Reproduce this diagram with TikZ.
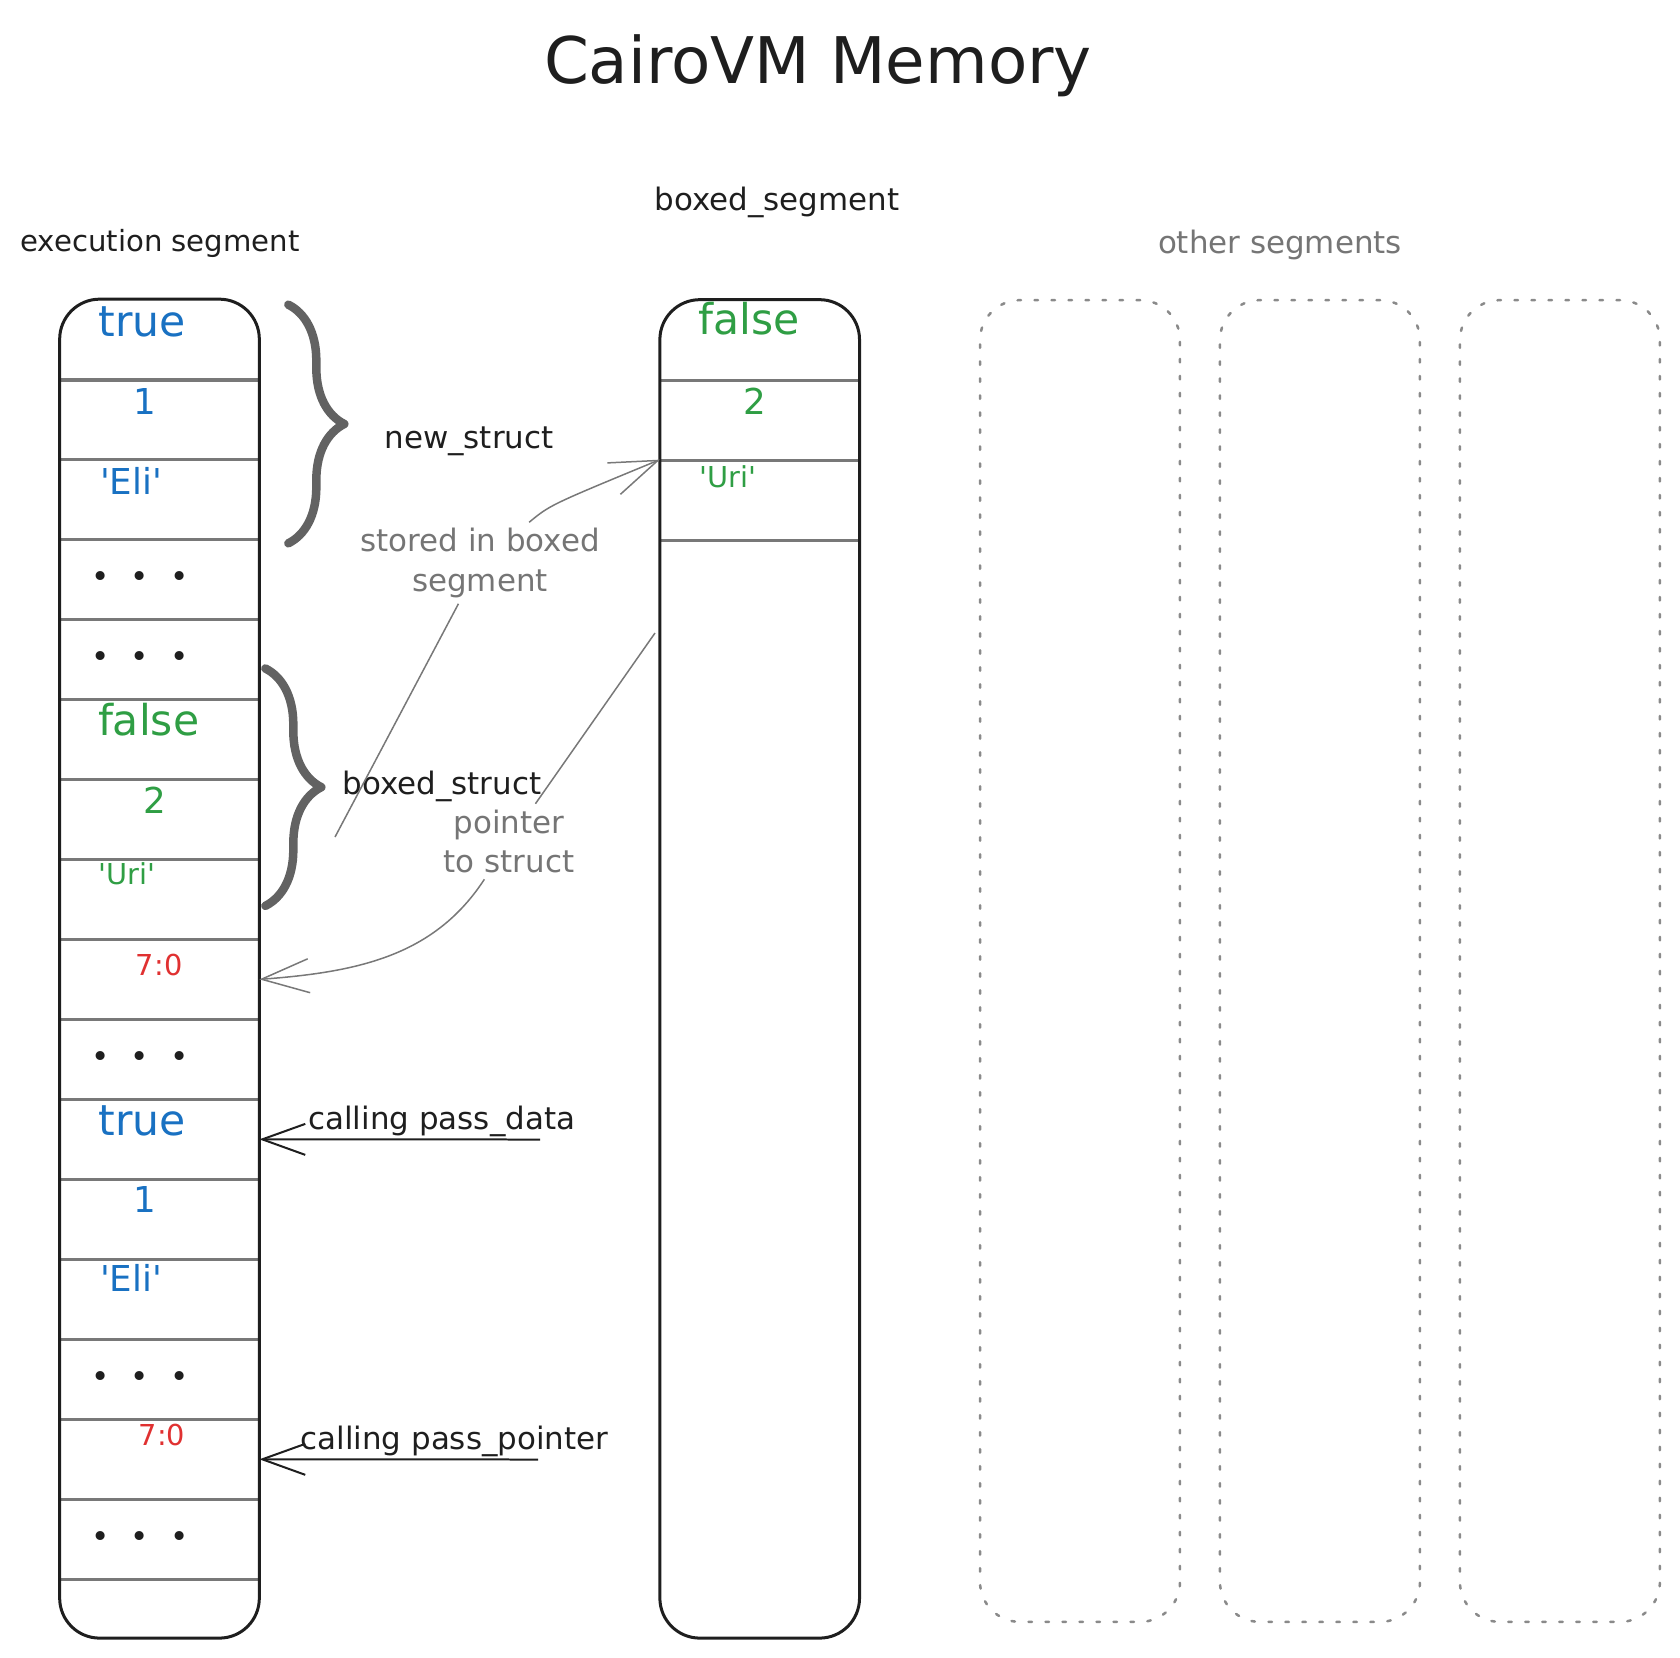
\documentclass[tikz,border=0pt]{standalone}
\usepackage{fontspec}
\setmainfont{DejaVu Sans}
\usetikzlibrary{positioning,arrows.meta,decorations.pathreplacing}

\definecolor{ink}{HTML}{1E1E1E}
\definecolor{valblue}{HTML}{1971C2}
\definecolor{valgreen}{HTML}{2F9E44}
\definecolor{valred}{HTML}{E03131}
\definecolor{greytext}{HTML}{757575}
\definecolor{greyline}{HTML}{787878}
\definecolor{bracegrey}{HTML}{626262}
\definecolor{dotgrey}{HTML}{8A8A8A}

\newcommand{\cellgap}{•\hspace{0.43cm}•\hspace{0.43cm}•}

\tikzset{
  cell/.style={minimum width=3.98cm, minimum height=1.6cm, inner sep=0pt},
  segbox/.style={draw=ink, line width=0.06cm, rounded corners=0.8cm},
  divider/.style={color=greyline, line width=0.066cm},
  freeseg/.style={draw=dotgrey, line width=0.05cm, dash pattern=on 0.07cm off 0.27cm, line cap=round, rounded corners=0.8cm, minimum width=4cm, minimum height=26.44cm},
  word/.style={anchor=base west, inner sep=0pt},
  num/.style={anchor=base, inner sep=0pt},
  bigsize/.style={font=\fontsize{24.2pt}{29pt}\selectfont},
  midsize/.style={font=\fontsize{20.3pt}{24pt}\selectfont},
  smallsize/.style={font=\fontsize{16.4pt}{20pt}\selectfont},
  gapdots/.style={font=\fontsize{17.6pt}{21pt}\selectfont, text=ink, inner sep=0pt},
  note/.style={font=\fontsize{17.6pt}{22.3pt}\selectfont, text=ink, anchor=base},
  greynote/.style={font=\fontsize{17.6pt}{22.3pt}\selectfont, text=greytext, align=center},
  bracket/.style={draw=bracegrey, line width=0.17cm, line cap=round, line join=round, decorate, decoration={brace, amplitude=1.12cm}},
  ptrarrow/.style={draw=greyline, line width=0.03cm, -{Straight Barb[length=0.95cm, width=0.68cm]}},
  callarrow/.style={draw=ink, line width=0.04cm, -{Straight Barb[length=0.86cm, width=0.62cm]}}
}

\begin{document}
\begin{tikzpicture}[x=0.02cm, y=-0.02cm, node distance=1.6cm]
\useasboundingbox (0,0) rectangle (1680,1657);

% headings
\node[note, font=\fontsize{36.6pt}{44pt}\selectfont] (title) at (818,83) {CairoVM Memory};
\node[note, font=\fontsize{16.6pt}{20pt}\selectfont] (exechead) at (160,251) {execution segment};
\node[note] (boxhead) at (777,210) {boxed\_segment};
\node[note, text=greytext] (otherhead) at (1280,253) {other segments};

% execution segment
\node[cell] (e1) at (159.5,339.5) {};
\node[cell] (e2)[below of = e1] {};
\node[cell] (e3)[below of = e2] {};
\node[cell] (e4)[below of = e3] {};
\node[cell] (e5)[below of = e4] {};
\node[cell] (e6)[below of = e5] {};
\node[cell] (e7)[below of = e6] {};
\node[cell] (e8)[below of = e7] {};
\node[cell] (e9)[below of = e8] {};
\node[cell] (e10)[below of = e9] {};
\node[cell] (e11)[below of = e10] {};
\node[cell] (e12)[below of = e11] {};
\node[cell] (e13)[below of = e12] {};
\node[cell] (e14)[below of = e13] {};
\node[cell] (e15)[below of = e14] {};
\node[cell] (e16)[below of = e15] {};

\path[divider]
  (e1.south west) edge (e1.south east)
  (e2.south west) edge (e2.south east)
  (e3.south west) edge (e3.south east)
  (e4.south west) edge (e4.south east)
  (e5.south west) edge (e5.south east)
  (e6.south west) edge (e6.south east)
  (e7.south west) edge (e7.south east)
  (e8.south west) edge (e8.south east)
  (e9.south west) edge (e9.south east)
  (e10.south west) edge (e10.south east)
  (e11.south west) edge (e11.south east)
  (e12.south west) edge (e12.south east)
  (e13.south west) edge (e13.south east)
  (e14.south west) edge (e14.south east)
  (e15.south west) edge (e15.south east)
  (e16.south west) edge (e16.south east)
;
\draw[segbox] (e1.north west) rectangle ([yshift=-1.17cm]e16.south east);

\node[word, bigsize, text=valblue] (v1) at ([xshift=0.77cm, yshift=-0.75cm]e1.north west) {true};
\node[num, midsize, text=valblue] (v2) at ([xshift=1.7cm, yshift=-0.71cm]e2.north west) {1};
\node[word, midsize, text=valblue] (v3) at ([xshift=0.8cm, yshift=-0.71cm]e3.north west) {\textquotesingle Eli\textquotesingle};
\node[gapdots] (d4) at ([xshift=-0.39cm]e4.center) {\cellgap};
\node[gapdots] (d5) at ([xshift=-0.39cm]e5.center) {\cellgap};
\node[word, bigsize, text=valgreen] (v6) at ([xshift=0.76cm, yshift=-0.72cm]e6.north west) {false};
\node[num, midsize, text=valgreen] (v7) at ([xshift=1.91cm, yshift=-0.68cm]e7.north west) {2};
\node[word, smallsize, text=valgreen] (v8) at ([xshift=0.77cm, yshift=-0.51cm]e8.north west) {\textquotesingle Uri\textquotesingle};
\node[num, smallsize, text=valred] (v9) at ([xshift=1.99cm, yshift=-0.73cm]e9.north west) {7:0};
\node[gapdots] (d10) at ([xshift=-0.39cm]e10.center) {\cellgap};
\node[word, bigsize, text=valblue] (v11) at ([xshift=0.77cm, yshift=-0.73cm]e11.north west) {true};
\node[num, midsize, text=valblue] (v12) at ([xshift=1.7cm, yshift=-0.68cm]e12.north west) {1};
\node[word, midsize, text=valblue] (v13) at ([xshift=0.8cm, yshift=-0.66cm]e13.north west) {\textquotesingle Eli\textquotesingle};
\node[gapdots] (d14) at ([xshift=-0.39cm]e14.center) {\cellgap};
\node[num, smallsize, text=valred] (v15) at ([xshift=2.05cm, yshift=-0.53cm]e15.north west) {7:0};
\node[gapdots] (d16) at ([xshift=-0.39cm]e16.center) {\cellgap};

% boxed segment
\node[cell] (b1) at (759.7,340) {};
\node[cell] (b2)[below of = b1] {};
\node[cell] (b3)[below of = b2] {};

\path[divider]
  (b1.south west) edge (b1.south east)
  (b2.south west) edge (b2.south east)
  (b3.south west) edge (b3.south east)
;
\draw[segbox] (b1.north west) rectangle ([yshift=-21.96cm]b3.south east);

\node[word, bigsize, text=valgreen] (w1) at ([xshift=0.77cm, yshift=-0.7cm]b1.north west) {false};
\node[num, midsize, text=valgreen] (w2) at ([xshift=1.9cm, yshift=-0.7cm]b2.north west) {2};
\node[word, smallsize, text=valgreen] (w3) at ([xshift=0.78cm, yshift=-0.56cm]b3.north west) {\textquotesingle Uri\textquotesingle};

% other segments
\node[freeseg] (o1) at (1080,961) {};
\node[freeseg, node distance=4.8cm] (o2)[right of = o1] {};
\node[freeseg, node distance=4.8cm] (o3)[right of = o2] {};

% braces
\draw[bracket] ([xshift=0.58cm, yshift=-0.11cm]e1.north east) -- ([xshift=0.58cm, yshift=-0.07cm]e3.south east);
\draw[bracket] ([xshift=0.12cm, yshift=-0.18cm]e5.east) -- ([xshift=0.12cm, yshift=-0.13cm]e8.east);
\node[note] (newstruct) at (469,448) {new\_struct};
\node[note] (boxedstruct) at (442,794) {boxed\_struct};

% pointers
\node[greynote] (stored) at (480,563) {stored in boxed\\segment};
\node[greynote] (pointer) at (509,841.5) {pointer\\to struct};
\coordinate (s1) at (335,837);
\coordinate (s2) at (655,633);
\draw[ptrarrow] (s1) -- (stored) .. controls (550,505) .. (b3.north west);
\draw[ptrarrow] (s2) -- (pointer) .. controls (435,955) and (360,972) .. (e9.east);

% calls
\coordinate (c1) at (540,1139.5);
\coordinate (c2) at (538,1459.5);
\draw[callarrow] (c1) -- node[note, pos=0.35, yshift=0.2cm] (pdata) {calling pass\_data} (e11.east);
\draw[callarrow] (c2) -- node[note, pos=0.3, yshift=0.2cm] (pptr) {calling pass\_pointer} (e15.east);
\end{tikzpicture}
\end{document}
